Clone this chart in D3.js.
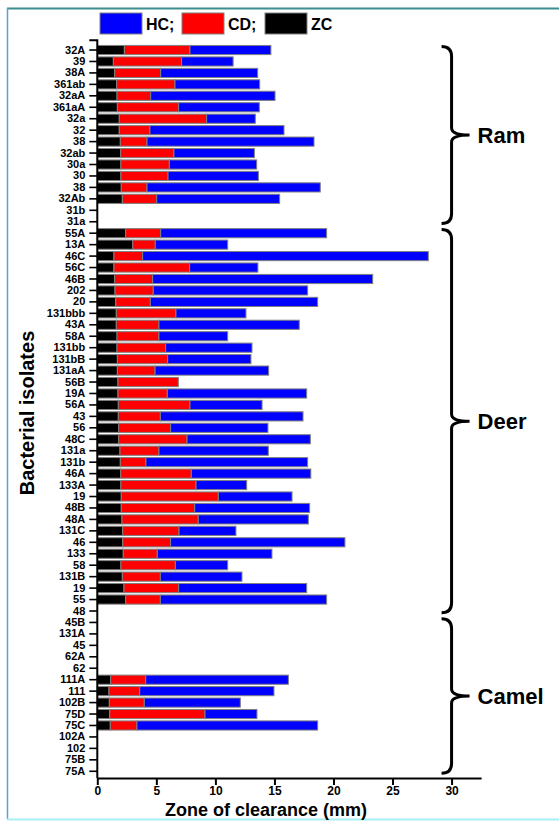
<!DOCTYPE html>
<html>
<head>
<meta charset="utf-8">
<script src="https://cdn.jsdelivr.net/npm/d3@7/dist/d3.min.js"></script>
<style>
  html, body { margin: 0; padding: 0; background: #fff; }
  svg { display: block; font-family: "Liberation Sans", Arial, Helvetica, sans-serif; }
</style>
</head>
<body>
<svg id="chart" width="559" height="821"></svg>
<script>
// ---------- data ----------
const categories = [
  "32A","39","38A","361ab","32aA","361aA","32a","32","38","32ab","30a","30","38","32Ab","31b","31a",
  "55A","13A","46C","56C","46B","202","20","131bbb","43A","58A","131bb","131bB","131aA","56B","19A","56A",
  "43","56","48C","131a","131b","46A","133A","19","48B","48A","131C","46","133","58","131B","19","55","48",
  "45B","131A","45","62A","62","111A","111","102B","75D","75C","102A","102","75B","75A"
];
const groupNames = ["Ram", "Deer", "Camel"];
const groupFirst = [0, 16, 50];
const groupLast  = [15, 49, 63];

const zcValues = [
  2.29,1.36,1.47,1.64,1.67,1.70,1.86,1.86,1.95,1.98,2.00,2.00,2.03,2.12,0,0,
  2.40,3.00,1.41,1.41,1.47,1.50,1.56,1.61,1.61,1.67,1.67,1.70,1.70,1.75,1.75,1.78,
  1.78,1.81,1.81,1.92,1.95,1.98,2.00,2.03,2.03,2.09,2.15,2.15,2.20,2.00,2.12,2.26,2.40,0,
  0,0,0,0,0,1.13,0.99,1.02,1.05,1.10,0,0,0,0
];
const cdValues = [
  5.56,5.78,3.90,4.94,2.85,5.19,7.40,2.60,2.26,4.51,4.10,3.99,2.18,2.91,0,0,
  2.97,1.91,2.43,6.41,3.22,3.24,2.93,5.05,3.61,3.55,4.12,4.26,3.19,5.11,4.18,6.07,
  3.56,4.40,5.79,3.30,2.17,5.98,6.36,8.22,6.22,6.46,4.77,4.06,2.88,4.61,3.22,4.63,2.94,0,
  0,0,0,0,0,2.97,2.60,2.96,8.07,2.26,0,0,0,0
];
const hcValues = [
  6.85,4.36,8.21,7.17,10.53,6.83,4.12,11.35,14.14,6.81,7.40,7.65,14.67,10.41,0,0,
  14.05,6.13,24.19,5.78,18.63,13.07,14.17,5.93,11.88,5.82,7.31,7.05,9.62,0,11.80,6.10,
  12.08,8.24,10.44,9.26,13.69,10.12,4.29,6.24,9.73,9.32,4.82,14.76,9.71,4.43,6.91,10.84,14.08,0,
  0,0,0,0,0,12.08,11.37,8.13,4.40,15.30,0,0,0,0
];
const seriesKeys = ["ZC", "CD", "HC"];
const seriesColors = ["#000000", "#ff0000", "#0000ff"];
const legendOrder = ["HC", "CD", "ZC"];
const legendLabels = ["HC;", "CD;", "ZC"];
const xTicks = [0, 5, 10, 15, 20, 25, 30];
const xTitle = "Zone of clearance (mm)";
const yTitle = "Bacterial isolates";

// ---------- setup ----------
const svg = d3.select("#chart");
const color = d3.scaleOrdinal().domain(seriesKeys).range(seriesColors);

// frame
svg.append("line").attr("x1", 7).attr("x2", 559).attr("y1", 8.5).attr("y2", 8.5)
  .attr("stroke", "#3d8f8f").attr("stroke-width", 2);
svg.append("line").attr("x1", 7.5).attr("x2", 7.5).attr("y1", 8).attr("y2", 819)
  .attr("stroke", "#5aa0dc").attr("stroke-width", 1.5);
svg.append("line").attr("x1", 7).attr("x2", 559).attr("y1", 819.5).attr("y2", 819.5)
  .attr("stroke", "#a8eef4").attr("stroke-width", 2);

const x = d3.scaleLinear().domain([0, 32.5]).range([97.3, 481.1]);
const idx = d3.range(categories.length);
const y = d3.scaleBand().domain(idx).range([44.3, 777]).paddingInner(0.2).paddingOuter(0.1);

const rows = idx.map(i => ({ i, ZC: zcValues[i], CD: cdValues[i], HC: hcValues[i] }));
const stacked = d3.stack().keys(seriesKeys)(rows);

// bars
const gBars = svg.append("g");
stacked.forEach(layer => {
  gBars.selectAll(null)
    .data(layer.filter(d => d[1] - d[0] > 0))
    .join("rect")
    .attr("x", d => x(d[0]))
    .attr("y", d => y(d.data.i))
    .attr("width", d => x(d[1]) - x(d[0]))
    .attr("height", y.bandwidth())
    .attr("fill", color(layer.key))
    .attr("stroke", "#808080")
    .attr("stroke-width", 1);
});

// y axis
const yAxis = d3.axisLeft(y).tickSize(8).tickPadding(4).tickFormat(i => categories[i]);
const gy = svg.append("g").attr("transform", `translate(${x(0)},0)`).call(yAxis);
gy.select(".domain").remove();
gy.selectAll(".tick line").attr("stroke", "#000").attr("stroke-width", 1.6);
gy.selectAll(".tick text").attr("font-size", 11).attr("font-weight", "bold").attr("fill", "#000");
const yTop = y.range()[0] - 4;
const yBot = y.range()[1] + 1;
svg.append("path")
  .attr("d", `M${x(0) - 8},${yTop}H${x(0)}V${yBot}`)
  .attr("fill", "none").attr("stroke", "#000").attr("stroke-width", 2);

// x axis
const xAxis = d3.axisBottom(x).tickValues(xTicks).tickSize(7).tickSizeOuter(0).tickPadding(1);
const gx = svg.append("g").attr("transform", `translate(0,${yBot})`).call(xAxis);
gx.select(".domain").attr("stroke", "#000").attr("stroke-width", 2);
gx.selectAll(".tick line").attr("stroke", "#000").attr("stroke-width", 2);
gx.selectAll(".tick text").attr("font-size", 12).attr("font-weight", "bold").attr("fill", "#000");

// axis titles
svg.append("text").attr("x", 266).attr("y", 816)
  .attr("text-anchor", "middle").attr("font-size", 18).attr("font-weight", "bold")
  .text(xTitle);
svg.append("text").attr("transform", "translate(34,413) rotate(-90)")
  .attr("text-anchor", "middle").attr("font-size", 20).attr("font-weight", "bold")
  .text(yTitle);

// legend
const legend = svg.append("g");
const legendX = [100, 182, 265];
legendOrder.forEach((k, j) => {
  legend.append("rect").attr("x", legendX[j]).attr("y", 13).attr("width", 42).attr("height", 21)
    .attr("fill", color(k)).attr("stroke", "#808080").attr("stroke-width", 1);
  legend.append("text").attr("x", legendX[j] + 46).attr("y", 30)
    .attr("font-size", 16).attr("font-weight", "bold").text(legendLabels[j]);
});

// group braces
const bx = x(30);
groupNames.forEach((name, g) => {
  const y0 = y(groupFirst[g]) + 1;
  const y1 = y(groupLast[g]) + y.step() - 5;
  const ym = (y0 + y1) / 2;
  const c = 10;
  const d = `M${bx - 10},${y0} Q${bx},${y0} ${bx},${y0 + c} L${bx},${ym - 7} Q${bx},${ym} ${bx + 18},${ym} ` +
            `Q${bx},${ym} ${bx},${ym + 7} L${bx},${y1 - c} Q${bx},${y1} ${bx - 10},${y1}`;
  svg.append("path").attr("d", d).attr("fill", "none").attr("stroke", "#000").attr("stroke-width", 3)
    .attr("stroke-linejoin", "miter");
  svg.append("text").attr("x", bx + 26).attr("y", ym + 8)
    .attr("font-size", 22).attr("font-weight", "bold").text(name);
});
</script>
</body>
</html>
